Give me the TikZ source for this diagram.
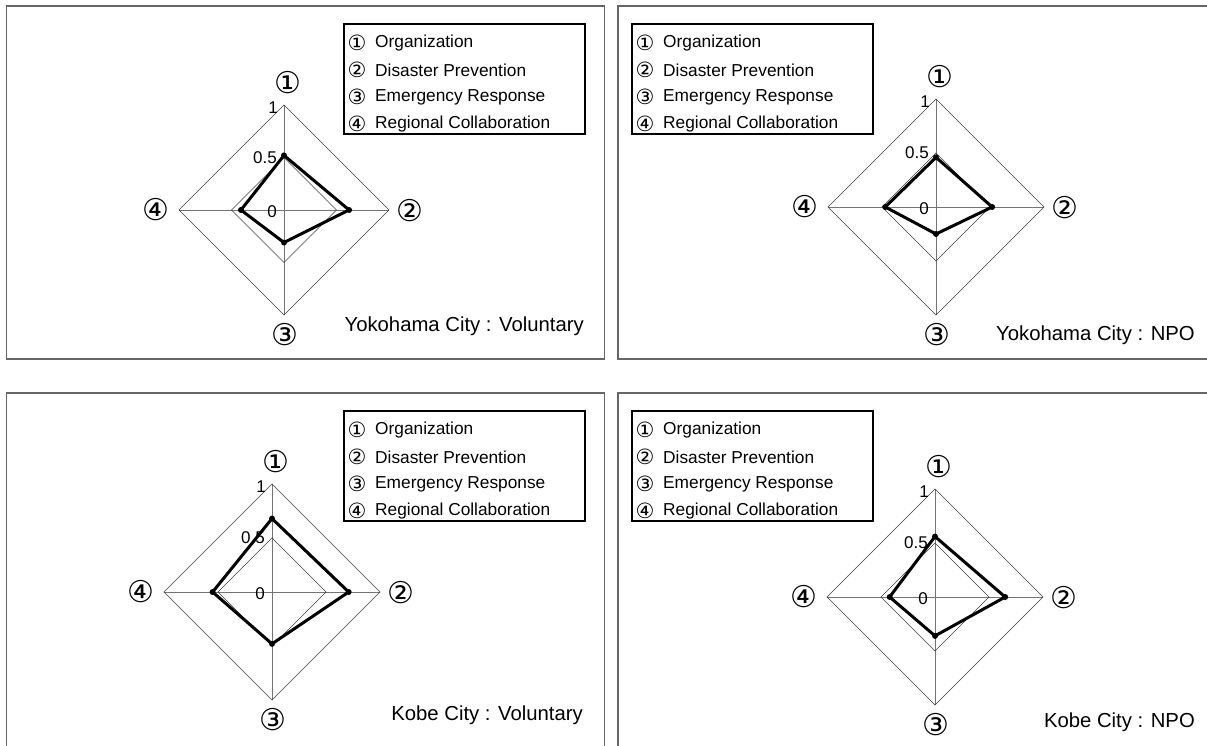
\documentclass[tikz,border=0pt]{standalone}
\usepackage{fontspec}
\setmainfont{Liberation Sans}
\newfontfamily\circfont{DejaVu Sans}
\tikzset{
  panel/.style={draw=black!60, line width=1.2pt},
  legendframe/.style={draw=black, line width=1.3pt},
  legtext/.style={font=\fontsize{17.3}{18}\selectfont, anchor=west, inner sep=0pt},
  legcirc/.style={font=\circfont\fontsize{21}{22}\selectfont, inner sep=0pt},
  axlabel/.style={font=\circfont\fontsize{30}{31}\selectfont, inner sep=0pt},
  ticklab/.style={font=\fontsize{17}{18}\selectfont, inner sep=0pt, anchor=east},
  gridline/.style={draw=black!75, line width=0.6pt},
  axisline/.style={draw=black!55, line width=0.6pt},
  dataline/.style={draw=black, line width=3pt, line join=round},
  datadot/.style={circle, fill=black, inner sep=0pt, minimum size=6pt},
  titletext/.style={font=\fontsize{20.3}{21}\selectfont, anchor=east, inner sep=0pt}
}
\newcommand\legendbox[3]{%
  \node[draw=none, inner sep=0pt, minimum width=0pt] (#1box) at (#2,#3) {};
  \draw[legendframe] (#1box.center) rectangle ++(241,110);
  \node[legcirc] (#1c1) at (#2+13,#3+19) {①};
  \node[legtext] (#1t1) at (#2+31,#3+19) {Organization};
  \node[legcirc] (#1c2) at (#2+13,#3+46) {②};
  \node[legtext] (#1t2) at (#2+31,#3+46) {Disaster Prevention};
  \node[legcirc] (#1c3) at (#2+13,#3+73) {③};
  \node[legtext] (#1t3) at (#2+31,#3+73) {Emergency Response};
  \node[legcirc] (#1c4) at (#2+13,#3+100) {④};
  \node[legtext] (#1t4) at (#2+31,#3+100) {Regional Collaboration};
}
\newcommand\radarchart[8]{%
  \coordinate (#1o) at (#2,#3);
  \coordinate (#1N) at (#2,#3-#4);
  \coordinate (#1E) at (#2+#4,#3);
  \coordinate (#1S) at (#2,#3+#4);
  \coordinate (#1W) at (#2-#4,#3);
  \coordinate (#1n) at (#2,#3-0.5*#4);
  \coordinate (#1e) at (#2+0.5*#4,#3);
  \coordinate (#1s) at (#2,#3+0.5*#4);
  \coordinate (#1w) at (#2-0.5*#4,#3);
  \draw[axisline] (#1N) -- (#1S);
  \draw[axisline] (#1W) -- (#1E);
  \draw[gridline] (#1N) -- (#1E) -- (#1S) -- (#1W) -- cycle;
  \draw[gridline] (#1n) -- (#1e) -- (#1s) -- (#1w) -- cycle;
  \node[ticklab] (#1l1) at (#2-6,#3-#4+3) {1};
  \node[ticklab] (#1l5) at (#2-7,#3-0.5*#4) {0.5};
  \node[ticklab] (#1l0) at (#2-7,#3+2) {0};
  \node[datadot] (#1d1) at (#2,#3-#5*#4) {};
  \node[datadot] (#1d2) at (#2+#6*#4,#3) {};
  \node[datadot] (#1d3) at (#2,#3+#7*#4) {};
  \node[datadot] (#1d4) at (#2-#8*#4,#3) {};
  \draw[dataline] (#1d1.center) -- (#1d2.center) -- (#1d3.center) -- (#1d4.center) -- cycle;
  \node[axlabel] (#1a1) at (#2+4,#3-#4-22) {①};
  \node[axlabel] (#1a2) at (#2+#4+21,#3+1) {②};
  \node[axlabel] (#1a3) at (#2+1,#3+#4+20) {③};
  \node[axlabel] (#1a4) at (#2-#4-23,#3) {④};
}
\begin{document}
\begin{tikzpicture}[x=1pt,y=-1pt]
\useasboundingbox[fill=white] (0,0) rectangle (1207,746);
% panel frames
\draw[panel] (6.5,6) rectangle (604.5,359);
\draw[panel] (1207,6) -- (618,6) -- (618,359) -- (1207,359);
\draw[panel] (6.5,746) -- (6.5,393) -- (604.5,393) -- (604.5,746);
\draw[panel] (618,746) -- (618,393) -- (1207,393);
% legends
\legendbox{LA}{344}{24}
\legendbox{LB}{632}{24}
\legendbox{LC}{344}{411}
\legendbox{LD}{632}{411}
% radar charts
\radarchart{RA}{284}{210}{105}{0.52}{0.62}{0.31}{0.41}
\radarchart{RB}{936}{207}{108}{0.46}{0.52}{0.25}{0.47}
\radarchart{RC}{272}{592}{108}{0.68}{0.71}{0.48}{0.55}
\radarchart{RD}{935}{597}{108}{0.56}{0.65}{0.36}{0.42}
% titles
\node[titletext] (TA) at (584,326) {Yokohama City : Voluntary};
\node[titletext] (TB) at (1195,335) {Yokohama City : NPO};
\node[titletext] (TC) at (583,715) {Kobe City : Voluntary};
\node[titletext] (TD) at (1195,722) {Kobe City : NPO};
\end{tikzpicture}
\end{document}
